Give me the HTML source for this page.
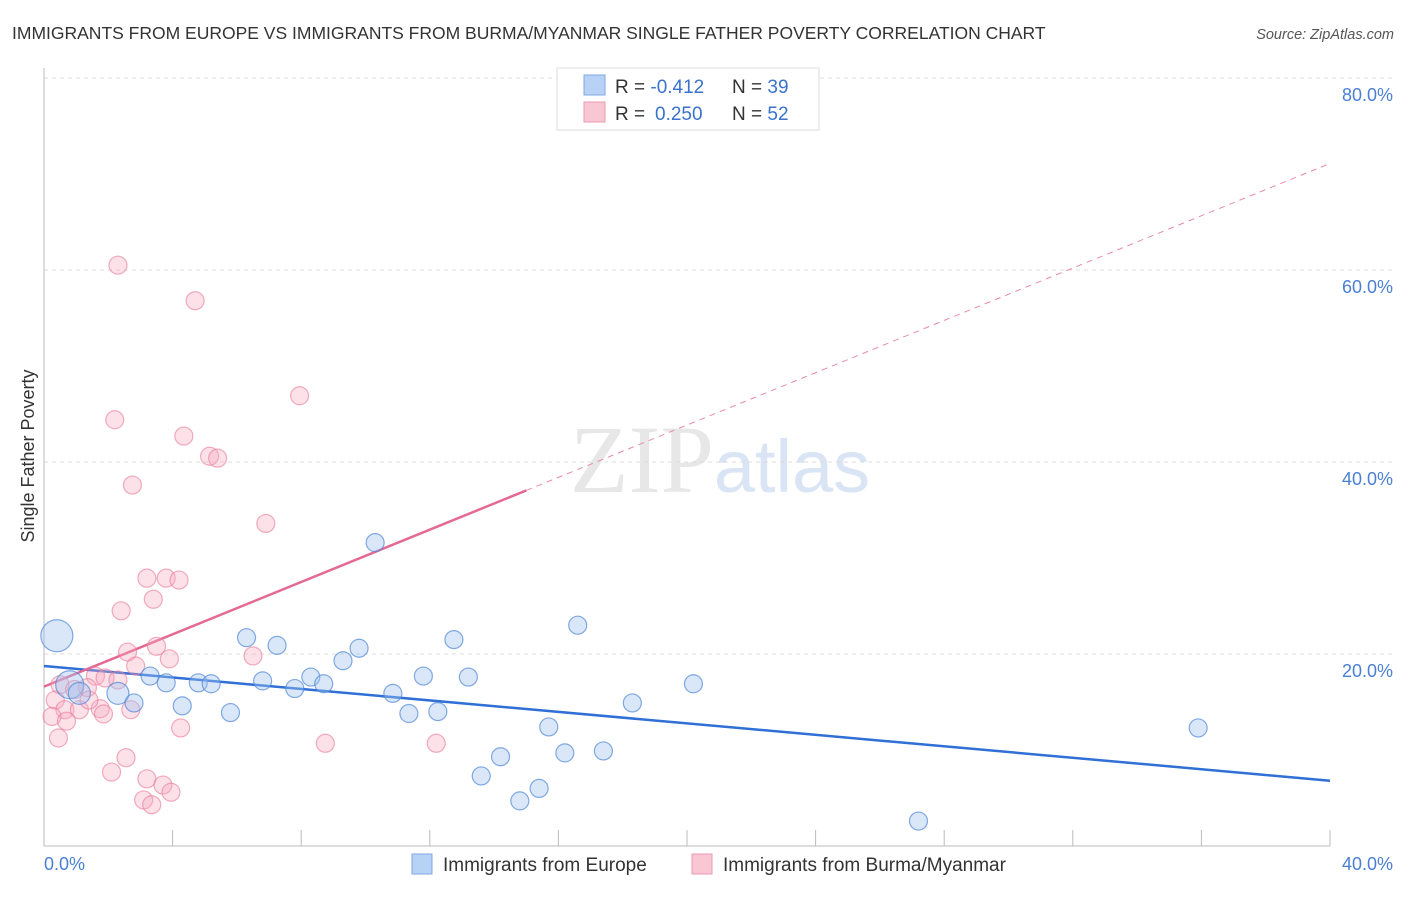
<!DOCTYPE html>
<html><head><meta charset="utf-8"><style>
body{margin:0;background:#fff;font-family:"Liberation Sans",sans-serif}
</style></head><body>
<svg id="chart" width="1406" height="892" xmlns="http://www.w3.org/2000/svg" font-family="Liberation Sans, sans-serif">
<text x="12" y="39" font-size="17.5" fill="#333">IMMIGRANTS FROM EUROPE VS IMMIGRANTS FROM BURMA/MYANMAR SINGLE FATHER POVERTY CORRELATION CHART</text>
<text x="1394" y="39" font-size="14.5" fill="#555" text-anchor="end" font-style="italic">Source: ZipAtlas.com</text>
<text x="720" y="492" font-size="96" text-anchor="middle" fill="#ddd" font-family="Liberation Serif, serif" opacity="0.7">ZIP<tspan fill="#c9d9f0" font-family="Liberation Sans, sans-serif" font-size="74">atlas</tspan></text>
<g id="grid"></g><g id="axes"></g><g id="lines"></g><g id="pts"></g>
<text transform="translate(34,456) rotate(-90)" font-size="18" fill="#333" text-anchor="middle">Single Father Poverty</text>
<text x="44" y="870" font-size="18" fill="#4a7fd4">0.0%</text>
<text x="1393" y="870" font-size="18" fill="#4a7fd4" text-anchor="end">40.0%</text>
<g>
<rect x="557" y="68" width="262" height="62" fill="#fff" stroke="#ddd"/>
<rect x="584" y="75" width="21" height="20" fill="#b8d2f5" stroke="#7fa8e3"/>
<rect x="584" y="102" width="21" height="20" fill="#f9c6d4" stroke="#ec9ab2"/>
<text x="615" y="93" font-size="19" fill="#333">R = <tspan fill="#3a72cc">-0.412</tspan><tspan x="732">N = </tspan><tspan fill="#3a72cc">39</tspan></text>
<text x="615" y="120" font-size="19" fill="#333">R = <tspan fill="#3a72cc" x="655">0.250</tspan><tspan x="732">N = </tspan><tspan fill="#3a72cc">52</tspan></text>
</g>
<g>
<rect x="412" y="854" width="20" height="20" fill="#b8d2f5" stroke="#7fa8e3"/>
<text x="443" y="871" font-size="19" fill="#333">Immigrants from Europe</text>
<rect x="692" y="854" width="20" height="20" fill="#f9c6d4" stroke="#ec9ab2"/>
<text x="723" y="871" font-size="19" fill="#333">Immigrants from Burma/Myanmar</text>
</g>
</svg>
<script>
const yTicks=[20,40,60,80];
const yTickLabels=["20.0%","40.0%","60.0%","80.0%"];
const xTicks=[0,4,8,12,16,20,24,28,32,36,40];
const blueX=[0.4,0.8,1.1,2.3,2.8,3.3,3.8,4.3,4.8,5.2,5.8,6.3,6.8,7.25,7.8,8.3,8.7,9.3,9.8,10.3,10.85,11.35,11.8,12.25,12.75,13.2,13.6,14.2,14.8,15.4,15.7,16.2,16.6,17.4,18.3,20.2,27.2,35.9];
const blueY=[21.9,16.8,15.9,15.9,14.9,17.7,17.0,14.6,17.0,16.9,13.9,21.7,17.2,20.9,16.4,17.6,16.9,19.3,20.6,31.6,15.9,13.8,17.7,14.0,21.5,17.6,7.3,9.3,4.7,6.0,12.4,9.7,23.0,9.9,14.9,16.9,2.6,12.3];
const blueR=[16,14,11,11,9,9,9,9,9,9,9,9,9,9,9,9,9,9,9,9,9,9,9,9,9,9,9,9,9,9,9,9,9,9,9,9,9,9];
const pinkX=[2.3,4.7,7.95,2.2,4.35,5.15,5.4,2.75,6.9,3.2,3.8,4.2,3.4,2.4,3.5,2.6,3.9,6.5,2.85,1.6,1.9,2.3,0.5,0.95,1.35,0.35,0.65,1.75,1.1,2.7,0.25,0.7,0.45,4.25,8.75,12.2,2.55,2.1,3.2,3.7,3.95,3.1,3.35,1.85,1.4];
const pinkY=[60.5,56.8,46.9,44.4,42.7,40.6,40.4,37.6,33.6,27.9,27.9,27.7,25.7,24.5,20.8,20.2,19.5,19.8,18.75,17.7,17.5,17.3,16.8,16.3,16.5,15.2,14.2,14.3,14.2,14.2,13.5,13.0,11.25,12.3,10.7,10.7,9.2,7.7,7.0,6.35,5.6,4.8,4.3,13.75,15.2];
const blueTrend=[18.75,6.8];
const pinkTrend=[16.6,71.1];
const pinkSolidEnd=15.0;
const NS="http://www.w3.org/2000/svg";
const X=v=>44+v*32.15, Y=v=>846-v*9.6;
function mk(t,a,p){const e=document.createElementNS(NS,t);for(const k in a)e.setAttribute(k,a[k]);document.getElementById(p).appendChild(e);return e;}
yTicks.forEach((t,i)=>{
 const l=mk('line',{x1:44,x2:1392,y1:Y(t),y2:Y(t),stroke:'#ddd','stroke-dasharray':'4,4'},'grid');
 
 
 const tx=mk('text',{x:1393,y:Y(t)+23,'font-size':18,fill:'#4a7fd4','text-anchor':'end'},'grid');tx.textContent=yTickLabels[i];
 
 
});
const tl=mk('line',{x1:44,x2:1392,y1:Y(80),y2:Y(80),stroke:'#ddd','stroke-dasharray':'4,4'},'grid');
let ax=mk('line',{x1:44,x2:44,y1:68,y2:846,stroke:'#bbb'},'axes');


ax=mk('line',{x1:44,x2:1330,y1:846,y2:846,stroke:'#bbb'},'axes');


xTicks.forEach(t=>{const e=mk('line',{x1:X(t),x2:X(t),y1:830,y2:846,stroke:'#bbb'},'axes');
 
 });
pinkX.forEach((v,i)=>{const c=mk('circle',{cx:X(v),cy:Y(pinkY[i]),r:9,fill:'rgba(246,170,192,0.35)',stroke:'rgba(232,120,152,0.6)','stroke-width':1.2},'pts');
 
 });
blueX.forEach((v,i)=>{const c=mk('circle',{cx:X(v),cy:Y(blueY[i]),r:blueR[i],fill:'rgba(160,196,240,0.4)',stroke:'rgba(80,135,215,0.7)','stroke-width':1.2},'pts');
 
 });
let ln=mk('line',{x1:X(0),y1:Y(blueTrend[0]),x2:X(40),y2:Y(blueTrend[1]),stroke:'#2f6fd6','stroke-width':2.5},'lines');


const pAt=x=>pinkTrend[0]+(pinkTrend[1]-pinkTrend[0])*x/40;
ln=mk('line',{x1:X(0),y1:Y(pinkTrend[0]),x2:X(pinkSolidEnd),y2:Y(pAt(pinkSolidEnd)),stroke:'#e46a94','stroke-width':2.5},'lines');


ln=mk('line',{x1:X(pinkSolidEnd),y1:Y(pAt(pinkSolidEnd)),x2:X(40),y2:Y(pinkTrend[1]),stroke:'#e88aaa','stroke-width':1,'stroke-dasharray':'6,5'},'lines');


</script>
</body></html>
